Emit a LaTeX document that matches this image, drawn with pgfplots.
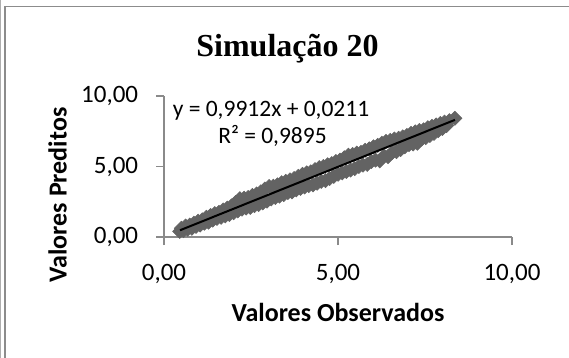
\documentclass[border=0pt]{standalone}
\usepackage{pgfplots}
\pgfplotsset{compat=1.18}
\usepackage{fontspec}
\setmainfont{Carlito}
\newfontfamily\timesfont{Liberation Serif}
\definecolor{ptgray}{HTML}{636363}
\definecolor{axgray}{HTML}{8A8A8A}
\definecolor{framegray}{HTML}{8C8C8C}
\begin{document}
\begin{tikzpicture}
\path[use as bounding box] (0,0) rectangle (569bp,358bp);
\draw[framegray!70, line width=1.2bp] (0.6bp,0) -- (0.6bp,358bp);
\draw[framegray, line width=1.6bp] (5bp,0) -- (5bp,351.6bp) -- (569bp,351.6bp);
\begin{axis}[
  at={(164bp,121bp)}, anchor=south west,
  scale only axis, width=348bp, height=141bp,
  xmin=0, xmax=10, ymin=0, ymax=10,
  axis lines=left, axis line style={-, axgray, line width=1.2bp},
  tick style={axgray, line width=1.2bp},
  tick align=outside, major tick length=8bp,
  xtick={0,5,10}, ytick={0,5,10},
  xticklabels={{0,00},{5,00},{10,00}},
  yticklabels={{0,00},{5,00},{10,00}},
  ticklabel style={font=\fontsize{25bp}{30bp}\selectfont, inner sep=0pt},
  xticklabel style={anchor=north, yshift=-19bp},
  yticklabel style={anchor=east, xshift=-17.7bp},
  clip=false, clip marker paths=true,
]
\addplot[only marks, mark=square*, mark size=5bp, mark options={rotate=45, fill=ptgray, draw=ptgray, line width=0.6bp}] coordinates {
(0.45,0.40) (0.50,0.62) (0.56,0.45) (0.62,0.78) (0.68,0.55) (0.74,0.85) (0.80,0.62) (0.86,0.98)
(0.92,0.75) (0.98,1.12) (1.04,0.85) (1.10,1.22) (1.16,0.98) (1.22,1.40) (1.28,1.05) (1.34,1.52)
(1.40,1.20) (1.46,1.66) (1.52,1.32) (1.58,1.75) (1.64,1.40) (1.70,1.92) (1.76,1.50) (1.82,2.05)
(1.88,1.60) (1.94,2.20) (2.00,1.72) (2.06,2.45) (2.12,1.85) (2.18,2.72) (2.24,1.98) (2.30,2.75)
(2.36,2.05) (2.42,2.80) (2.48,2.10) (2.54,2.95) (2.60,2.22) (2.66,3.05) (2.72,2.30) (2.78,3.20)
(2.84,2.42) (2.90,3.40) (2.96,2.55) (3.02,3.58) (3.08,2.70) (3.14,3.60) (3.20,2.80) (3.26,3.70)
(3.32,2.90) (3.38,3.85) (3.44,3.00) (3.50,3.95) (3.56,3.15) (3.62,4.05) (3.68,3.20) (3.74,4.15)
(3.80,3.35) (3.86,4.30) (3.92,3.45) (3.98,4.45) (4.04,3.55) (4.10,4.55) (4.16,3.65) (4.22,4.62)
(4.28,3.70) (4.34,4.78) (4.40,3.82) (4.46,4.92) (4.52,3.95) (4.58,5.00) (4.64,4.00) (4.70,5.12)
(4.76,4.15) (4.82,5.20) (4.88,4.30) (4.94,5.35) (5.00,4.45) (5.06,5.45) (5.12,4.55) (5.18,5.62)
(5.24,4.65) (5.30,5.80) (5.36,4.75) (5.42,5.85) (5.48,4.85) (5.54,5.95) (5.60,5.00) (5.66,6.00)
(5.72,5.10) (5.78,6.15) (5.84,5.15) (5.90,6.25) (5.96,5.35) (6.02,6.40) (6.08,5.45) (6.14,6.50)
(6.20,5.40) (6.26,6.65) (6.32,5.75) (6.38,6.78) (6.44,5.70) (6.50,6.85) (6.56,6.00) (6.62,6.95)
(6.68,6.05) (6.74,7.00) (6.80,6.20) (6.86,7.10) (6.92,6.40) (6.98,7.20) (7.04,6.55) (7.10,7.35)
(7.16,6.60) (7.22,7.45) (7.28,6.65) (7.34,7.55) (7.40,6.95) (7.46,7.60) (7.52,7.05) (7.58,7.75)
(7.64,7.20) (7.70,7.85) (7.76,7.35) (7.82,7.95) (7.88,7.55) (7.94,8.05) (8.00,7.70) (8.06,8.15)
(8.12,7.90) (8.20,8.25) (8.36,8.42)
};
\addplot[black, line width=2bp] coordinates {(0.46,0.477) (8.36,8.308)};
\end{axis}
\node[anchor=base, font=\timesfont\bfseries\fontsize{32bp}{38bp}\selectfont, inner sep=0pt] at (287.5bp,301.3bp) {Simulação 20};
\node[anchor=base, font=\bfseries\fontsize{26bp}{31bp}\selectfont, inner sep=0pt] at (338bp,36.3bp) {Valores Observados};
\node[anchor=base, rotate=90, font=\bfseries\fontsize{26bp}{31bp}\selectfont, inner sep=0pt] at (66.7bp,163bp) {Valores Preditos};
\node[anchor=base, font=\fontsize{23.5bp}{28bp}\selectfont, inner sep=0pt] at (271bp,241.3bp) {y = 0,9912x + 0,0211};
\node[anchor=base, font=\fontsize{23.5bp}{28bp}\selectfont, inner sep=0pt] at (272.5bp,214.7bp) {R² = 0,9895};
\end{tikzpicture}
\end{document}
